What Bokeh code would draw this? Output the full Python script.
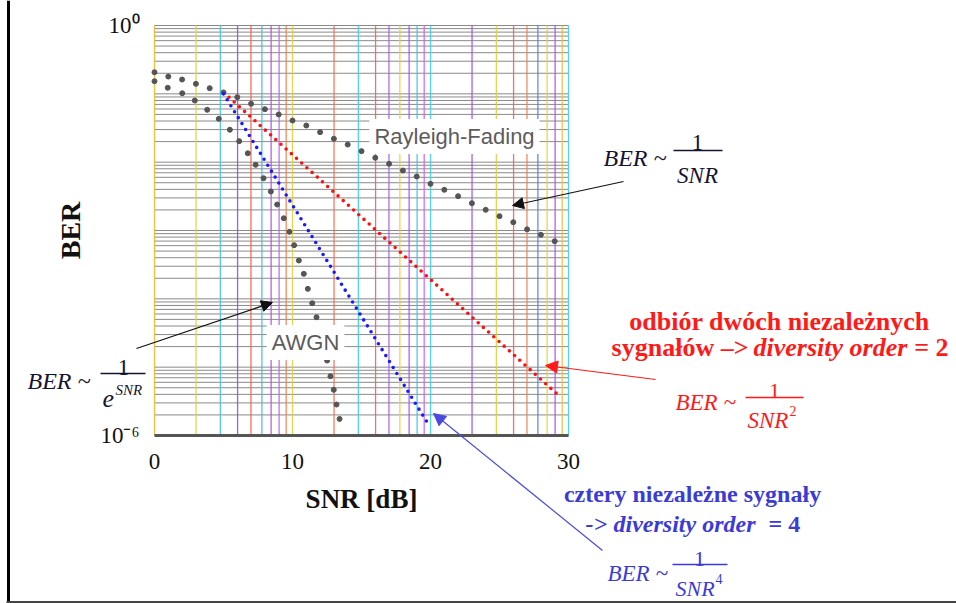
import math
from bokeh.plotting import figure
from bokeh.models import FixedTicker, Label, Arrow, NormalHead, Range1d
from bokeh.embed import file_html
from bokeh.resources import INLINE

# ---------------- data ----------------
rayleigh_snr = list(range(0, 30))
rayleigh_ber = [0.207, 0.179, 0.162, 0.140, 0.121, 0.105, 0.0893, 0.0715, 0.0596, 0.0499,
                0.0407, 0.0344, 0.0275, 0.0220, 0.0181, 0.0145, 0.0116, 0.00946, 0.00755, 0.00617,
                0.00482, 0.00394, 0.00318, 0.00251, 0.00201, 0.00162, 0.00132, 0.00104, 0.000865, 0.000697]

awgn_snr = [0.0, 0.96, 2.01, 2.92, 3.82, 4.66, 5.46, 6.14, 6.76, 7.33, 7.90, 8.43, 8.89, 9.37,
            9.78, 10.12, 10.46, 10.82, 11.11, 11.43, 11.74, 12.03, 12.27, 12.51, 12.75, 12.99, 13.19, 13.41]
awgn_ber = [0.153, 0.1225, 0.102, 0.0798, 0.0584, 0.0431, 0.0298, 0.0203, 0.0135, 0.00914,
            0.00582, 0.00372, 0.00240, 0.00151, 0.000957, 0.000610, 0.000364, 0.000232, 0.000140, 8.63e-5,
            5.38e-5, 3.44e-5, 2.07e-5, 1.25e-5, 7.37e-6, 4.66e-6, 2.84e-6, 1.75e-6]

div2_snr = [5.4, 29.2]
div2_ber = [0.089, 4.0e-6]
div4_snr = [5.0, 19.95]
div4_ber = [0.1, 1.35e-6]

x_min, x_max = 0, 30
y_min, y_max = 1e-6, 1.0
x_ticks = [0, 10, 20, 30]
x_tick_labels = ["0", "10", "20", "30"]
y_ticks = [1e-6, 1.0]
y_tick_labels = ["10\u207b\u2076", "10\u2070"]

# graph-paper grid
vgrid_db = [10 * d + 10 * math.log10(k) for d in range(3) for k in range(1, 10)] + [30.0]
vgrid_colors = ["#e8b830", "#e8d040", "#40c8e0", "#9050e0", "#f06050", "#40b8f0", "#b050e8", "#c060f0", "#f08050",
                "#e0d040", "#f07050", "#40d0e0", "#f06060", "#a060e8", "#e8d040", "#b050e8", "#40c0f0", "#d060e8",
                "#40d0e0", "#a050e8", "#e0d040", "#f06060", "#f08050", "#5080f0", "#e8d040", "#b050e8", "#e8c040",
                "#40d0e0"]
hgrid = [k * 10.0 ** d for d in range(-6, 0) for k in range(1, 10)] + [1.0]

# ---------------- geometry: the plot box inside the page ----------------
W, H = 956, 603
BOX_L, BOX_T, BOX_W, BOX_H = 154, 25, 414, 410
FXS = BOX_W / (x_max - x_min)
FYS = BOX_H / 6.0


def X(px):
    return x_min + (px - BOX_L) / FXS


def Y(py):
    return 10 ** (math.log10(y_max) - (py - BOX_T) / FYS)


p = figure(width=W, height=H, x_range=Range1d(X(0), X(W)), y_range=Range1d(Y(H), Y(0)),
           y_axis_type="log", min_border=0,
           output_backend="svg", toolbar_location=None, title=None,
           background_fill_color="white", border_fill_color="white", outline_line_color=None)

SERIF = "Liberation Serif"

# axes, pinned to the plot box
p.xaxis.fixed_location = y_min
p.yaxis.fixed_location = x_min
p.xaxis.bounds = (x_min, x_max)
p.yaxis.bounds = (y_min, y_max)
p.xaxis.ticker = FixedTicker(ticks=x_ticks)
p.xaxis.major_label_overrides = {t: l for t, l in zip(x_ticks, x_tick_labels)}
p.yaxis.ticker = FixedTicker(ticks=y_ticks)
p.yaxis.major_label_overrides = {t: l for t, l in zip(y_ticks, y_tick_labels)}
for ax in (p.xaxis, p.yaxis):
    ax.major_tick_line_color = None
    ax.minor_tick_line_color = None
    ax.major_label_text_font = SERIF
    ax.major_label_text_font_size = "23px"
    ax.major_label_text_color = "#111111"
    ax.axis_label_text_font = SERIF
    ax.axis_label_text_font_style = "bold"
    ax.axis_label_text_color = "#111111"
p.xaxis.axis_line_width = 3
p.xaxis.axis_line_color = "#555555"
p.yaxis.axis_line_color = None
p.xaxis.major_label_standoff = 12
p.yaxis.major_label_standoff = 9
p.xaxis.axis_label = "SNR [dB]"
p.xaxis.axis_label_text_font_size = "27px"
p.xaxis.axis_label_standoff = 12
p.yaxis.axis_label = "BER"
p.yaxis.axis_label_text_font_size = "28px"
p.yaxis.axis_label_standoff = 11

p.xgrid.visible = False
p.ygrid.visible = False

# graph paper: gray horizontal lines and colored vertical lines
n_h = len(hgrid)
p.segment(x0=[x_min] * n_h, y0=hgrid, x1=[x_max] * n_h, y1=hgrid, line_color="#8a8a8a", line_width=1)
n_v = len(vgrid_db)
p.segment(x0=vgrid_db, y0=[y_min] * n_v, x1=vgrid_db, y1=[y_max] * n_v,
          line_color=vgrid_colors, line_width=1.3, line_alpha=0.9)

# curves
p.scatter(rayleigh_snr, rayleigh_ber, size=5, color="#555555")
p.scatter(awgn_snr, awgn_ber, size=5, color="#555555")
p.line(div2_snr, div2_ber, line_color="#ff1010", line_width=3.6, line_dash="0 7", line_cap="round")
p.line(div4_snr, div4_ber, line_color="#1a1aff", line_width=3.6, line_dash="0 7", line_cap="round")


def txt(s, px, py, size, color, style="normal", align="left", baseline="alphabetic", font=SERIF, bg=None):
    lab = Label(x=X(px), y=Y(py), text=s, text_font=font, text_font_size=f"{size}px",
                text_color=color, text_font_style=style, text_align=align, text_baseline=baseline)
    if bg is not None:
        lab.background_fill_color = bg
        lab.padding = 5
    p.add_layout(lab)


def seg(px0, py0, px1, py1, color, width=1.0, head=None):
    end = None
    if head:
        end = NormalHead(size=head, fill_color=color, line_color=color, line_width=1)
    p.add_layout(Arrow(end=end, x_start=X(px0), y_start=Y(py0), x_end=X(px1), y_end=Y(py1),
                       line_color=color, line_width=width))


# curve names
txt("Rayleigh-Fading", 454, 136, 22, "#5c5c5c", align="center", baseline="middle",
    font="Liberation Sans", bg="white")
txt("AWGN", 305, 342, 22, "#5c5c5c", align="center", baseline="middle",
    font="Liberation Sans", bg="white")

# --- BER ~ 1/SNR (black, right)
NAVY = "#141432"
txt("BER ~", 603, 157, 24, NAVY, style="italic")
txt("1", 697, 142, 23, NAVY, align="center")
seg(673, 150, 722, 150, NAVY, 1.3)
txt("SNR", 697, 175, 23, NAVY, style="italic", align="center")
seg(623, 181, 512, 205, "#111111", 1.2, head=11)

# --- BER ~ 1/e^SNR (black, left)
txt("BER ~", 27, 380, 24, NAVY, style="italic")
txt("1", 123, 367, 23, NAVY, align="center")
seg(100, 373, 145, 373, NAVY, 1.3)
txt("e", 102, 398, 26, NAVY, style="italic")
txt("SNR", 115, 389, 15, NAVY, style="italic")
seg(136, 348, 272, 302, "#111111", 1.2, head=11)

# --- red: diversity order 2
RED = "#ff1a1a"
txt("odbiór dwóch niezależnych", 779, 321, 26, RED, style="bold", align="center")
txt("sygnałów \u2013>", 748, 347, 26, RED, style="bold", align="right")
txt("diversity order", 753, 347, 26, RED, style="bold italic")
txt("= 2", 948, 347, 26, RED, style="bold", align="right")
txt("BER ~", 675, 402, 23, RED, style="italic")
txt("1", 774, 390, 22, RED, align="center")
seg(745, 397, 803, 397, RED, 1.3)
txt("SNR", 747, 420, 23, RED, style="italic")
txt("2", 789, 410, 14, RED)
seg(655, 379, 545, 365, RED, 1.2, head=12)

# --- blue: diversity order 4
BLUE = "#3b3bd6"
txt("cztery niezależne sygnały", 692, 493, 24, BLUE, style="bold", align="center")
txt("->", 585, 523, 24, BLUE, style="bold italic")
txt("diversity order", 613, 523, 24, BLUE, style="bold italic")
txt("= 4", 768, 523, 24, BLUE, style="bold")
txt("BER ~", 607, 573, 23, BLUE, style="italic")
txt("1", 699, 558, 22, BLUE, align="center")
seg(672, 564, 727, 564, BLUE, 1.3)
txt("SNR", 675, 588, 22, BLUE, style="italic")
txt("4", 715, 578, 14, BLUE)
seg(602, 550, 433, 413, "#4a4ae0", 1.2, head=12)

# slide frame lines
seg(8, 0, 8, 603, "#000000", 3)
seg(6, 601.5, 956, 601.5, "#444444", 2)

open("out.html", "w").write(file_html(p, INLINE))
